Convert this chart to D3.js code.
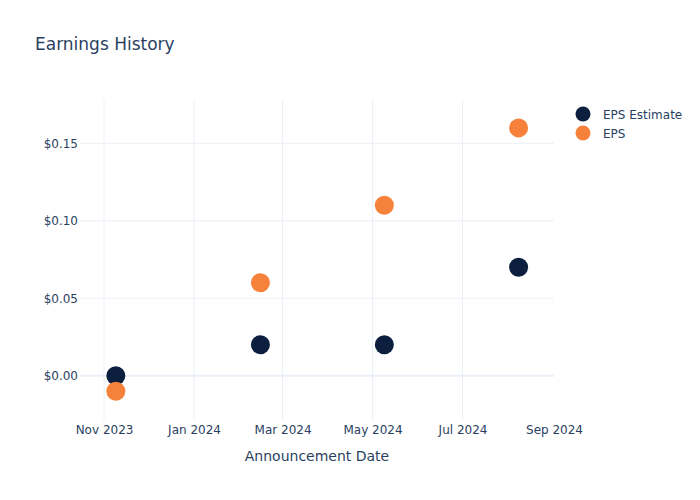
<!DOCTYPE html>
<html>
<head>
<meta charset="utf-8">
<script src="https://cdn.jsdelivr.net/npm/d3@7"></script>
<style>
  body { margin: 0; background: white; }
  text { font-family: "DejaVu Sans", Verdana, sans-serif; fill: #2a3f5f; }
</style>
</head>
<body>
<script>
// Announcement dates and EPS values
const dates = ['2023-11-09', '2024-02-15', '2024-05-09', '2024-08-08'];
const epsEstimate = [0.0, 0.02, 0.02, 0.07];
const eps = [-0.01, 0.06, 0.11, 0.16];
const yTicks = [0, 0.05, 0.10, 0.15];
const seriesNames = ['EPS Estimate', 'EPS'];
const seriesColors = ['#0c1f3f', '#f6813a'];

const width = 700;
const height = 500;
const margin = { top: 100, right: 146, bottom: 80, left: 80 };

const parse = d3.utcParse('%Y-%m-%d');
const series = [epsEstimate, eps].map((vals, i) => ({
  name: seriesNames[i],
  color: seriesColors[i],
  points: vals.map((v, j) => ({ date: parse(dates[j]), value: v })),
}));

// Scales (padded a bit like plotly autorange)
const x = d3
  .scaleUtc()
  .domain([new Date(Date.UTC(2023, 9, 15, 17)), new Date(Date.UTC(2024, 8, 1))])
  .range([margin.left, width - margin.right]);

const y = d3
  .scaleLinear()
  .domain([-0.0286, 0.178])
  .range([height - margin.bottom, margin.top]);

const svg = d3
  .select('body')
  .append('svg')
  .attr('width', width)
  .attr('height', height);

svg.append('rect').attr('width', width).attr('height', height).attr('fill', 'white');

// Title
svg
  .append('text')
  .attr('x', 35)
  .attr('y', 50)
  .attr('font-size', 17)
  .text('Earnings History');

// Vertical grid lines (none on the plot edge)
const xTicks = x.ticks(d3.utcMonth.every(2));
const [x0, x1] = x.range();
svg
  .append('g')
  .selectAll('line')
  .data(xTicks.filter((d) => x(d) > x0 + 1 && x(d) < x1 - 1))
  .enter()
  .append('line')
  .attr('x1', (d) => x(d))
  .attr('x2', (d) => x(d))
  .attr('y1', margin.top)
  .attr('y2', height - margin.bottom)
  .attr('stroke', '#ebf0f8')
  .attr('stroke-width', 1);

// Horizontal grid lines
svg
  .append('g')
  .selectAll('line')
  .data(yTicks)
  .enter()
  .append('line')
  .attr('x1', margin.left)
  .attr('x2', width - margin.right)
  .attr('y1', (d) => y(d))
  .attr('y2', (d) => y(d))
  .attr('stroke', '#ebf0f8')
  .attr('stroke-width', (d) => (d === 0 ? 2 : 1));

// X axis
const xAxis = svg
  .append('g')
  .attr('transform', `translate(0,${height - margin.bottom})`)
  .call(d3.axisBottom(x).tickValues(xTicks).tickFormat(d3.utcFormat('%b %Y')).tickSize(0).tickPadding(5));
xAxis.select('.domain').remove();
xAxis.selectAll('text').attr('font-size', 12).attr('fill', '#2a3f5f').style('font-family', '"DejaVu Sans", sans-serif');

// Y axis
const yAxis = svg
  .append('g')
  .attr('transform', `translate(${margin.left},0)`)
  .call(d3.axisLeft(y).tickValues(yTicks).tickFormat(d3.format('$.2f')).tickSize(0).tickPadding(2));
yAxis.select('.domain').remove();
yAxis.selectAll('text').attr('font-size', 12).attr('fill', '#2a3f5f').style('font-family', '"DejaVu Sans", sans-serif');

// X axis title
svg
  .append('text')
  .attr('x', (margin.left + width - margin.right) / 2)
  .attr('y', 461)
  .attr('text-anchor', 'middle')
  .attr('font-size', 14)
  .text('Announcement Date');

// Markers
series.forEach((s) => {
  svg
    .append('g')
    .selectAll('circle')
    .data(s.points)
    .enter()
    .append('circle')
    .attr('cx', (d) => x(d.date))
    .attr('cy', (d) => y(d.value))
    .attr('r', 9.5)
    .attr('fill', s.color);
});

// Legend
const legend = svg
  .append('g')
  .selectAll('g')
  .data(series)
  .enter()
  .append('g')
  .attr('transform', (d, i) => `translate(583,${114 + i * 19})`);
legend.append('circle').attr('r', 7.5).attr('fill', (d) => d.color);
legend
  .append('text')
  .attr('x', 20)
  .attr('y', 4.5)
  .attr('font-size', 12)
  .text((d) => d.name);
</script>
</body>
</html>
